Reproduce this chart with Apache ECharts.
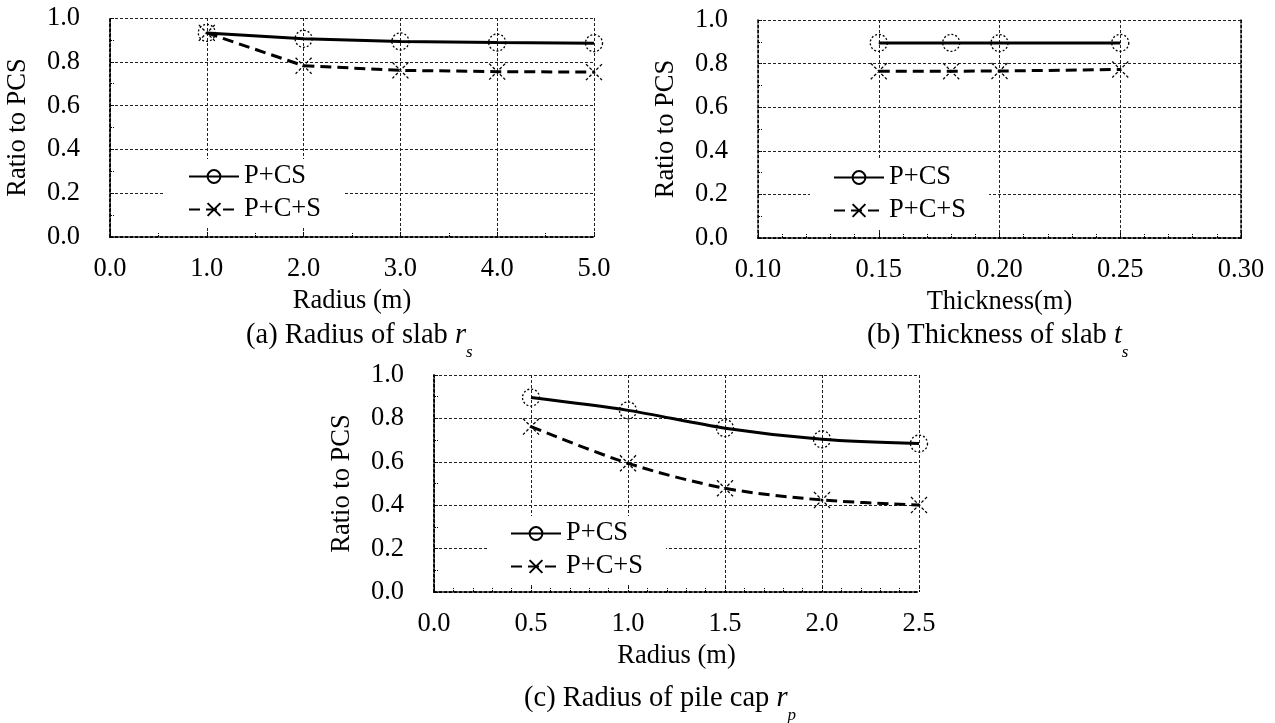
<!DOCTYPE html>
<html><head><meta charset="utf-8">
<script src="https://cdn.jsdelivr.net/npm/echarts@6/dist/echarts.min.js"></script>
<style>html,body{margin:0;padding:0;background:#fff}#c{width:1275px;height:723px}</style>
</head><body><div id="c"></div>
<script>
// ---- data ----
const seriesNames = ['P+CS', 'P+C+S'];
const yName = 'Ratio to PCS';

const radiusSlab = [1.0, 2.0, 3.0, 4.0, 5.0];
const slabPCS = [0.932, 0.905, 0.893, 0.888, 0.885];
const slabPCplusS = [0.932, 0.782, 0.761, 0.755, 0.753];

const thickness = [0.15, 0.18, 0.20, 0.25];
const thickPCS = [0.895, 0.895, 0.894, 0.895];
const thickPCplusS = [0.765, 0.765, 0.766, 0.773];

const radiusCap = [0.5, 1.0, 1.5, 2.0, 2.5];
const capPCS = [0.896, 0.837, 0.755, 0.704, 0.684];
const capPCplusS = [0.762, 0.593, 0.478, 0.424, 0.401];

const xNames = ['Radius (m)', 'Thickness(m)', 'Radius (m)'];
const captions = ['(a) Radius of slab {r|r}{s|s}', '(b) Thickness of slab {r|t}{s|s}', '(c) Radius of pile cap {r|r}{s|p}'];
const xRanges = [[0, 5, 1, 2, 1], [0.10, 0.30, 0.05, 5, 2], [0, 2.5, 0.5, 5, 1]]; // min,max,interval,minorSplit,decimals
const yRange = [0, 1, 0.2];

// ---- layout / style ----
const FONT = 'Liberation Serif';
const AX = 26.5;
const CAP = 28.5;
const grids = [
  {left: 110, top: 18, width: 484, height: 219},
  {left: 758, top: 20, width: 483, height: 218},
  {left: 434, top: 375, width: 485, height: 217}
];
const legendPos = [{left: 165, top: 159}, {left: 810, top: 160}, {left: 487, top: 516}];
const titlePos = [{left: 246, top: 311}, {left: 867, top: 311}, {left: 524, top: 674}];
const smoothing = [false, false, 0.3];
const frameLine = {show: true, lineStyle: {color: '#000', width: 1.5, type: [3, 2]}};
const gridLine = {show: true, lineStyle: {color: '#222', width: 1, type: [3, 2]}};

const xAxes = [], yAxes = [], series = [], legends = [], titles = [];
const sets = [
  [radiusSlab, slabPCS, slabPCplusS],
  [thickness, thickPCS, thickPCplusS],
  [radiusCap, capPCS, capPCplusS]
];
const xSym = 'path://M0,0L10,10M10,0L0,10';

sets.forEach((s, g) => {
  const [mn, mx, iv, ms, dec] = xRanges[g];
  xAxes.push({
    type: 'value', gridIndex: g, min: mn, max: mx, interval: iv, position: 'bottom',
    name: xNames[g], nameLocation: 'middle', nameGap: 51,
    nameTextStyle: {fontFamily: FONT, fontSize: AX, color: '#000'},
    axisLine: frameLine,
    axisTick: {show: true, inside: true, length: 6, lineStyle: {color: '#000', type: [2, 1]}},
    minorTick: {show: true, splitNumber: ms, length: 4, lineStyle: {color: '#000', type: [2, 1]}},
    axisLabel: {fontFamily: FONT, fontSize: AX, color: '#000', margin: 19,
      formatter: v => v.toFixed(dec)},
    splitLine: gridLine
  });
  xAxes.push({
    type: 'value', gridIndex: g, min: mn, max: mx, interval: iv, position: 'top',
    axisLine: frameLine, axisTick: {show: false}, axisLabel: {show: false}, splitLine: {show: false}
  });
  yAxes.push({
    type: 'value', gridIndex: g, min: yRange[0], max: yRange[1], interval: yRange[2], position: 'left',
    name: yName, nameLocation: 'middle', nameGap: 78,
    nameTextStyle: {fontFamily: FONT, fontSize: AX, color: '#000'},
    axisLine: frameLine,
    axisTick: {show: true, inside: true, length: 4, lineStyle: {color: '#000', type: [2, 1]}},
    minorTick: {show: true, splitNumber: 2, length: 4, lineStyle: {color: '#000', type: [2, 1]}},
    axisLabel: {fontFamily: FONT, fontSize: AX, color: '#000', margin: 30,
      formatter: v => v.toFixed(1)},
    splitLine: gridLine
  });
  yAxes.push({
    type: 'value', gridIndex: g, min: yRange[0], max: yRange[1], interval: yRange[2], position: 'right',
    axisLine: frameLine, axisTick: {show: false}, axisLabel: {show: false}, splitLine: {show: false}
  });
  const [xs, a, b] = s;
  series.push({
    name: seriesNames[0], type: 'line', xAxisIndex: 2 * g, yAxisIndex: 2 * g,
    data: xs.map((x, i) => [x, a[i]]), smooth: smoothing[g],
    symbol: 'circle', symbolSize: 17,
    itemStyle: {color: 'rgba(0,0,0,0)', borderColor: '#000', borderWidth: 1.3, borderType: [2, 2]},
    lineStyle: {color: '#000', width: 3, type: 'solid'},
    emphasis: {disabled: true}, z: 3
  });
  series.push({
    name: seriesNames[1], type: 'line', xAxisIndex: 2 * g, yAxisIndex: 2 * g,
    data: xs.map((x, i) => [x, b[i]]), smooth: smoothing[g],
    symbol: xSym, symbolSize: 16,
    itemStyle: {color: 'rgba(0,0,0,0)', borderColor: '#000', borderWidth: 1.3, borderType: [3, 2]},
    lineStyle: {color: '#000', width: 3, type: [11, 6]},
    emphasis: {disabled: true}, z: 3
  });
  legends.push({
    data: seriesNames, orient: 'vertical', left: legendPos[g].left, top: legendPos[g].top,
    backgroundColor: '#fff', padding: [4, 23, 4, 23], itemGap: 6,
    itemWidth: 50, itemHeight: 16, selectedMode: false,
    textStyle: {fontFamily: FONT, fontSize: AX, color: '#000', lineHeight: 26}
  });
  titles.push({
    text: captions[g], left: titlePos[g].left, top: titlePos[g].top, padding: 0,
    textStyle: {
      fontFamily: FONT, fontSize: CAP, fontWeight: 'normal', color: '#000', lineHeight: 50,
      rich: {
        r: {fontFamily: FONT, fontSize: CAP, fontStyle: 'italic', color: '#000', lineHeight: 50, verticalAlign: 'middle'},
        s: {fontFamily: FONT, fontSize: 17, fontStyle: 'italic', color: '#000', lineHeight: 16, verticalAlign: 'bottom'}
      }
    }
  });
});

const chart = echarts.init(document.getElementById('c'), null, {renderer: 'canvas'});
chart.setOption({
  backgroundColor: '#fff',
  animation: false,
  title: titles,
  legend: legends,
  grid: grids,
  xAxis: xAxes,
  yAxis: yAxes,
  series: series
});
</script>
</body></html>
